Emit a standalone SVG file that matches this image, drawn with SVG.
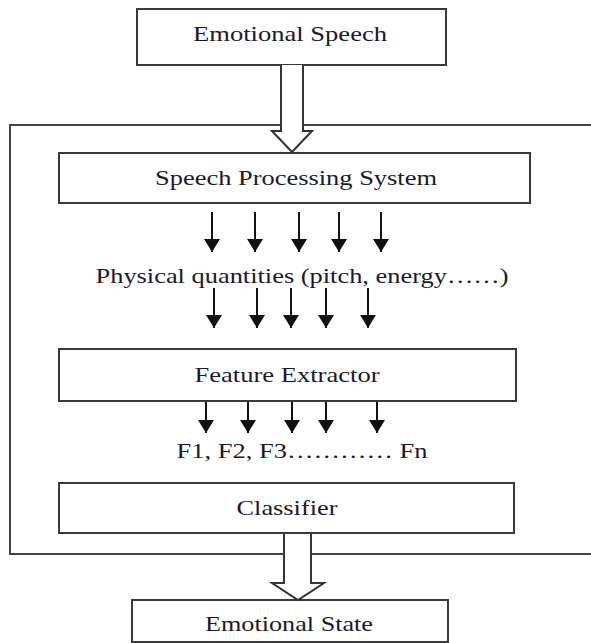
<svg xmlns="http://www.w3.org/2000/svg" width="591" height="643" viewBox="0 0 591 643">
<style>
.box{fill:#fff;stroke:#3a3a3a;stroke-width:2}
.lbl{font-family:"Liberation Serif","Times New Roman",serif;font-size:22px;fill:#1a1a2a;text-anchor:middle}
.arr{stroke:#111;stroke-width:2;fill:none;marker-end:url(#ah)}
.big{fill:#fff;stroke:#333;stroke-width:2;stroke-linejoin:miter}
.frame{fill:none;stroke:#444;stroke-width:2}
</style>
<defs>
<marker id="ah" markerUnits="userSpaceOnUse" markerWidth="16" markerHeight="14" viewBox="0 0 16 14" refX="8" refY="13" orient="0">
<path d="M0,0 H16 L8,13 Z" fill="#111"/>
</marker>
</defs>
<rect width="591" height="643" fill="#fff"/>
<g id="frame"><path class="frame" d="M592,125 H10 V554 H592"/></g>
<g id="emotional-speech"><rect class="box" x="137" y="9" width="309" height="56"/><text class="lbl" x="290" y="41" textLength="194" lengthAdjust="spacingAndGlyphs">Emotional Speech</text></g>
<g id="speech-processing"><rect class="box" x="59" y="153" width="471" height="50"/><text class="lbl" x="296" y="185" textLength="282" lengthAdjust="spacingAndGlyphs">Speech Processing System</text></g>
<g id="physical-quantities"><text class="lbl" x="302" y="283" textLength="413" lengthAdjust="spacingAndGlyphs">Physical quantities (pitch, energy……)</text></g>
<g id="feature-extractor"><rect class="box" x="59" y="349" width="457" height="52"/><text class="lbl" x="287" y="382" textLength="185" lengthAdjust="spacingAndGlyphs">Feature Extractor</text></g>
<g id="features"><text class="lbl" x="302" y="458" textLength="251" lengthAdjust="spacingAndGlyphs">F1, F2, F3………… Fn</text></g>
<g id="classifier"><rect class="box" x="59" y="483" width="455" height="50"/><text class="lbl" x="287" y="515" textLength="101" lengthAdjust="spacingAndGlyphs">Classifier</text></g>
<g id="emotional-state"><rect class="box" x="132" y="600" width="316" height="42"/><text class="lbl" x="289" y="631" textLength="168" lengthAdjust="spacingAndGlyphs">Emotional State</text></g>
<g id="connectors">
<path class="big" d="M281,65 V131 H272 L292,152 L312,131 H303 V65"/>
<path class="big" d="M284,534 V583 H272 L298,600 L324,583 H311 V534"/>
<line class="arr" x1="212" y1="212" x2="212" y2="252"/>
<line class="arr" x1="255" y1="212" x2="255" y2="252"/>
<line class="arr" x1="299" y1="212" x2="299" y2="252"/>
<line class="arr" x1="339" y1="212" x2="339" y2="252"/>
<line class="arr" x1="381" y1="212" x2="381" y2="252"/>
<line class="arr" x1="214" y1="288" x2="214" y2="328"/>
<line class="arr" x1="257" y1="288" x2="257" y2="328"/>
<line class="arr" x1="291" y1="288" x2="291" y2="328"/>
<line class="arr" x1="326" y1="288" x2="326" y2="328"/>
<line class="arr" x1="368" y1="288" x2="368" y2="328"/>
<line class="arr" x1="206" y1="402" x2="206" y2="433"/>
<line class="arr" x1="248" y1="402" x2="248" y2="433"/>
<line class="arr" x1="292" y1="402" x2="292" y2="433"/>
<line class="arr" x1="326" y1="402" x2="326" y2="433"/>
<line class="arr" x1="377" y1="402" x2="377" y2="433"/>
</g>
</svg>
